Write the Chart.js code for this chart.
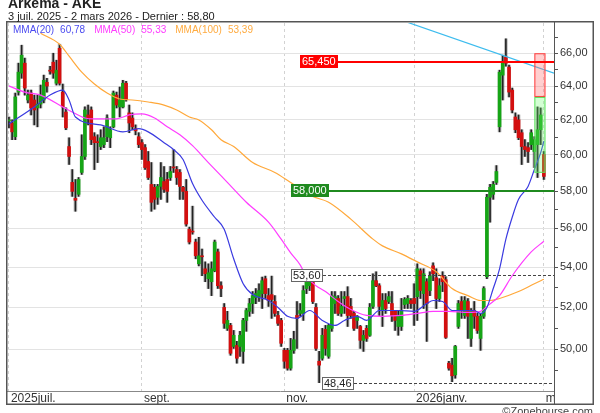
<!DOCTYPE html>
<html>
<head>
<meta charset="utf-8">
<title>Arkema - AKE</title>
<script src="https://cdn.jsdelivr.net/npm/chart.js@4.4.1/dist/chart.umd.min.js"></script>
<style>
  html, body { margin: 0; padding: 0; background: #fff; }
  canvas { display: block; }
</style>
</head>
<body>
<canvas id="chart" width="600" height="413"></canvas>
<script>
// one entry per trading day, index 0 = 3 juil. 2025, index 169 = 2 mars 2026
const open = [
  61.94, 61.82, 61.03, 63.64, 64.78, 65.39, 63.17, 63.58, 63.17, 62.70,
  62.93, 63.17, 64.23, 64.96, 65.45, 64.17, 66.31, 63.64, 62.46, 60.47,
  58.47, 57.60, 57.82, 59.02, 59.91, 62.29, 62.58, 61.03, 60.75, 60.47,
  60.58, 61.03, 60.97, 61.60, 63.46, 62.76, 62.76, 64.17, 62.41, 62.11,
  61.49, 61.03, 60.69, 60.41, 59.63, 58.36, 58.20, 57.66, 58.25, 58.52,
  58.63, 58.74, 59.29, 59.18, 59.02, 58.20, 57.98, 55.96, 55.86, 55.29,
  54.17, 54.58, 53.92, 53.42, 53.27, 53.82, 54.78, 53.07, 52.00, 50.99,
  51.13, 50.13, 50.18, 50.13, 49.90, 51.37, 51.81, 52.19, 52.48, 52.53,
  52.68, 53.42, 52.58, 52.63, 52.29, 51.61, 51.37, 49.95, 49.95, 49.12,
  49.95, 51.61, 51.71, 51.71, 52.93, 53.07, 53.27, 52.00, 49.44, 49.58,
  50.94, 49.67, 50.99, 52.19, 52.44, 51.71, 52.44, 52.53, 52.05, 51.71,
  51.37, 51.08, 50.42, 50.99, 50.66, 52.05, 53.32, 53.07, 51.85, 52.34,
  52.29, 52.19, 51.81, 51.08, 51.08, 52.14, 52.19, 52.34, 52.44, 52.53,
  53.82, 52.68, 53.27, 52.83, 54.07, 53.47, 52.44, 53.57, 53.37, 49.35,
  49.26, 48.81, 51.08, 52.29, 51.61, 52.29, 50.51, 51.85, 51.57, 50.51,
  51.57, 53.52, 57.66, 57.82, 58.47, 61.60, 64.66, 65.76, 65.15, 63.76,
  62.17, 62.00, 61.26, 60.47, 60.41, 60.58, 60.19, 60.58, 61.43, 60.02
];
const high = [
  62.17, 62.00, 63.58, 65.39, 66.50, 65.70, 63.76, 63.76, 63.46, 63.46,
  64.06, 64.66, 64.47, 65.20, 66.00, 65.57, 66.56, 64.12, 62.70, 60.97,
  59.18, 58.63, 58.74, 61.14, 62.76, 62.87, 62.76, 61.26, 61.14, 61.43,
  61.60, 62.29, 61.60, 63.70, 63.64, 63.94, 64.35, 64.29, 62.87, 62.41,
  61.71, 61.26, 60.86, 60.58, 60.19, 59.57, 58.36, 58.36, 59.57, 59.35,
  59.02, 59.35, 60.30, 59.35, 59.18, 58.25, 58.63, 56.07, 57.18, 55.44,
  55.54, 54.93, 54.27, 54.17, 54.27, 55.39, 54.93, 53.27, 52.19, 51.81,
  51.23, 50.89, 50.37, 50.85, 51.47, 51.95, 52.44, 52.78, 52.93, 53.17,
  53.50, 53.55, 52.93, 53.55, 52.58, 51.81, 51.47, 50.04, 50.04, 50.51,
  50.85, 52.29, 52.19, 53.07, 53.60, 53.57, 53.42, 52.19, 49.90, 50.99,
  51.13, 51.18, 52.78, 52.78, 52.58, 52.78, 52.78, 53.02, 52.44, 51.81,
  51.61, 51.13, 50.89, 51.13, 52.19, 53.67, 53.77, 53.17, 52.68, 52.68,
  52.78, 52.78, 51.85, 51.81, 52.44, 52.48, 52.58, 52.44, 53.17, 54.17,
  53.92, 53.92, 53.42, 53.77, 54.22, 53.92, 53.42, 53.77, 53.52, 49.44,
  49.58, 50.18, 52.34, 52.53, 52.53, 52.44, 51.95, 52.29, 51.71, 51.71,
  53.02, 57.82, 58.36, 58.52, 59.40, 64.96, 65.88, 66.90, 65.27, 63.88,
  62.41, 62.29, 61.43, 60.86, 60.69, 61.43, 61.03, 62.76, 62.70, 60.19
];
const low = [
  61.54, 60.86, 60.86, 63.46, 64.47, 63.46, 63.00, 62.29, 61.71, 61.60,
  62.70, 63.00, 63.64, 64.72, 64.47, 64.06, 64.06, 62.17, 61.43, 59.46,
  57.71, 56.91, 57.71, 58.91, 59.74, 61.71, 60.58, 59.18, 59.57, 60.30,
  60.41, 60.75, 60.41, 61.54, 62.70, 62.17, 62.70, 63.10, 61.26, 61.43,
  61.14, 60.41, 59.74, 59.18, 58.63, 56.91, 57.02, 57.28, 57.55, 57.93,
  57.39, 58.58, 59.02, 58.36, 57.55, 57.55, 56.12, 55.19, 55.70, 54.43,
  54.07, 53.57, 53.27, 52.93, 52.58, 53.77, 52.93, 52.53, 50.99, 50.89,
  49.72, 50.04, 49.35, 49.67, 49.35, 50.85, 51.57, 51.71, 52.19, 52.29,
  51.95, 52.44, 52.05, 51.47, 51.57, 51.13, 50.13, 49.12, 49.03, 49.03,
  49.81, 50.04, 51.57, 51.37, 52.68, 52.83, 52.19, 49.95, 48.46, 49.49,
  49.72, 49.58, 50.85, 51.71, 51.61, 51.57, 51.71, 51.08, 51.47, 50.89,
  50.99, 50.04, 49.90, 50.37, 50.61, 51.95, 53.02, 51.61, 51.08, 51.71,
  52.19, 51.32, 50.89, 50.66, 50.89, 51.95, 51.95, 51.95, 51.13, 51.37,
  52.44, 51.95, 50.37, 52.58, 53.32, 51.95, 52.29, 52.78, 50.51, 49.03,
  48.50, 48.66, 50.99, 51.47, 51.47, 50.51, 50.13, 50.99, 50.75, 49.95,
  51.47, 53.42, 56.33, 57.55, 58.36, 61.31, 63.17, 65.20, 63.35, 62.41,
  61.26, 60.86, 59.46, 59.91, 59.57, 60.30, 59.29, 58.74, 60.58, 58.63
];
const close = [
  62.00, 61.31, 63.35, 64.84, 65.88, 63.88, 63.46, 62.70, 62.58, 62.93,
  63.46, 64.35, 64.00, 64.90, 64.78, 64.96, 64.17, 62.76, 61.54, 59.91,
  57.98, 57.50, 58.63, 59.91, 62.58, 62.11, 60.86, 60.69, 60.69, 60.97,
  60.97, 62.11, 61.43, 63.58, 62.87, 63.17, 64.17, 63.20, 61.82, 61.60,
  61.37, 60.58, 60.30, 59.29, 58.74, 57.39, 57.55, 58.25, 58.74, 58.09,
  57.98, 59.07, 59.27, 58.74, 58.25, 57.98, 56.23, 55.29, 55.81, 54.58,
  54.58, 54.53, 53.67, 53.72, 53.92, 55.29, 53.07, 52.93, 51.23, 51.37,
  49.81, 50.66, 49.58, 50.66, 51.37, 51.85, 52.19, 52.58, 52.68, 52.83,
  53.32, 52.68, 52.34, 52.39, 51.71, 51.23, 50.28, 49.44, 49.12, 49.95,
  50.45, 51.47, 51.85, 52.83, 53.42, 53.42, 52.29, 50.04, 49.26, 50.66,
  50.04, 51.13, 52.58, 52.53, 51.71, 52.05, 52.53, 51.61, 51.61, 50.99,
  51.57, 50.42, 50.66, 50.51, 52.00, 53.32, 53.07, 52.05, 52.34, 51.95,
  52.53, 51.61, 51.37, 51.57, 51.85, 52.39, 52.44, 52.19, 52.19, 53.92,
  52.83, 53.67, 52.19, 53.57, 53.67, 52.44, 53.07, 53.27, 50.56, 49.12,
  48.77, 50.13, 52.19, 51.85, 52.34, 51.57, 51.81, 51.57, 50.89, 51.57,
  52.93, 57.66, 58.20, 58.36, 59.07, 64.84, 65.39, 65.39, 63.64, 62.58,
  61.43, 60.97, 60.47, 60.30, 60.19, 61.26, 60.86, 61.43, 62.29, 58.80
];

// moving averages: [day index, value]
const mma20 = [
  [0, 61.77], [8, 62.76], [13, 63.46], [17, 63.76], [19, 63.17], [21, 62.17], [29, 61.71],
  [36, 61.31], [41, 61.49], [44, 61.31], [49, 60.69], [52, 60.30], [55, 59.74], [58, 58.41],
  [61, 57.50], [65, 56.59], [68, 55.96], [71, 54.43], [74, 53.17], [77, 52.63], [82, 52.34],
  [85, 52.00], [88, 51.57], [91, 51.47], [95, 51.85], [99, 51.37], [103, 51.13], [106, 51.37],
  [110, 51.57], [113, 51.37], [117, 51.85], [123, 51.85], [128, 51.81], [132, 52.19], [134, 52.34],
  [137, 52.29], [140, 51.85], [147, 51.85], [149, 51.71], [151, 52.00], [153, 52.93], [155, 53.92],
  [157, 55.44], [159, 56.59], [161, 57.55], [164, 58.25], [166, 59.18], [168, 60.13], [169, 60.78]
];
const mma50 = [
  [0, 64.01], [5, 63.64], [10, 63.46], [17, 62.76], [20, 62.46], [24, 62.11], [27, 62.06],
  [34, 62.06], [38, 62.29], [42, 62.35], [46, 62.11], [50, 61.60], [54, 61.14], [58, 60.52],
  [63, 59.57], [69, 58.47], [75, 57.39], [82, 56.33], [86, 55.44], [89, 54.73], [92, 54.12],
  [94, 53.52], [97, 53.07], [100, 52.78], [104, 52.29], [108, 51.90], [113, 51.61], [118, 51.57],
  [124, 51.61], [129, 51.71], [134, 51.81], [139, 51.81], [145, 51.76], [149, 51.81], [151, 52.05],
  [155, 52.58], [159, 53.57], [165, 54.78], [169, 55.33]
];
const mma100 = [
  [10, 67.25], [16, 66.56], [19, 65.82], [23, 64.84], [27, 64.12], [31, 63.58], [35, 63.23],
  [39, 63.17], [44, 63.05], [49, 62.87], [53, 62.58], [57, 62.17], [60, 62.00], [64, 61.43],
  [67, 60.86], [71, 60.47], [77, 59.57], [84, 59.02], [89, 58.47], [96, 57.71], [101, 57.39],
  [108, 56.49], [115, 55.44], [118, 55.09], [124, 54.68], [129, 54.27], [135, 53.77], [140, 52.93],
  [145, 52.58], [149, 52.34], [152, 52.34], [155, 52.44], [161, 52.78], [166, 53.17], [169, 53.39]
];
const mmaNames = ['MMA(20)', 'MMA(50)', 'MMA(100)'];
const mmaLast = [60.78, 55.33, 53.39];

// descending trend line, two anchors
const trendLine = [[120, 68.36], [172.2, 64.78]];

// horizontal levels and the day where their tag sits
const levelValues = [65.45, 58.00, 53.60, 48.46];
const levelFrom = [92, 89, 89, 99];

// target zones on the last days
const zoneDays = [166, 169.5];
const zoneUpper = [63.35, 66.00];
const zoneLower = [59.00, 63.35];

const monthTicks = [0, 42, 87, 128, 169];
const monthLabels = ['2025juil.', 'sept.', 'nov.', '2026janv.', 'mars'];
const priceTicks = [49, 50, 51, 52, 53, 54, 55, 56, 57, 58, 59, 60, 61, 62, 63, 64, 65, 66, 67];

const FONT = '"Liberation Sans", Arial, sans-serif';
const fr = (v, d) => v.toFixed(d).replace('.', ',');

const days = close.map((c, i) => i);
const ranges = days.map(i => ({ x: i, y: [low[i], high[i]] }));
const bodies = days.map(i => ({ x: i, y: [open[i], close[i]] }));
const bodyColors = days.map(i => close[i] >= open[i] ? '#16a516' : '#d30f0f');
const pts = arr => arr.map(p => ({ x: p[0], y: p[1] }));

const overlay = {
  id: 'overlay',
  afterDatasetsDraw(chart) {
    const { ctx, chartArea: a, scales: { x, y } } = chart;
    ctx.save();
    ctx.beginPath();
    ctx.rect(a.left, a.top, a.right - a.left, a.bottom - a.top);
    ctx.clip();

    const zx0 = x.getPixelForValue(zoneDays[0]);
    const zx1 = x.getPixelForValue(zoneDays[1]);
    const zone = (r, fill, edge) => {
      const top = y.getPixelForValue(r[1]);
      const bot = y.getPixelForValue(r[0]);
      ctx.fillStyle = fill;
      ctx.fillRect(zx0, top, zx1 - zx0, bot - top);
      ctx.strokeStyle = edge;
      ctx.lineWidth = 1;
      ctx.strokeRect(zx0 + 0.5, top + 0.5, zx1 - zx0 - 1, bot - top - 1);
    };
    zone(zoneUpper, 'rgba(255,110,110,0.33)', '#ff3b3b');
    zone(zoneLower, 'rgba(110,255,110,0.30)', '#5de05d');

    const styles = [
      { line: '#ff0000', width: 2, dash: [], bg: '#ff0000', fg: '#ffffff', digits: 3 },
      { line: '#1f8a1f', width: 2, dash: [], bg: '#1f8a1f', fg: '#ffffff', digits: 3 },
      { line: '#444444', width: 1, dash: [3, 2], bg: '#ffffff', fg: '#222222', edge: '#666666', digits: 2 },
      { line: '#444444', width: 1, dash: [3, 2], bg: '#ffffff', fg: '#222222', edge: '#666666', digits: 2 }
    ];
    ctx.font = '11px ' + FONT;
    levelValues.forEach((v, k) => {
      const s = styles[k];
      const py = Math.round(y.getPixelForValue(v)) + (s.width === 1 ? 0.5 : 0);
      const x0 = Math.round(x.getPixelForValue(levelFrom[k]));
      const text = fr(v, s.digits);
      const w = Math.round(ctx.measureText(text).width) + 4;
      ctx.strokeStyle = s.line;
      ctx.lineWidth = s.width;
      ctx.setLineDash(s.dash);
      ctx.beginPath();
      ctx.moveTo(x0 + w, py);
      ctx.lineTo(a.right, py);
      ctx.stroke();
      ctx.setLineDash([]);
      ctx.fillStyle = s.bg;
      ctx.fillRect(x0, Math.round(py) - 7, w, 13);
      if (s.edge) {
        ctx.strokeStyle = s.edge;
        ctx.lineWidth = 1;
        ctx.strokeRect(x0 + 0.5, Math.round(py) - 6.5, w - 1, 12);
      }
      ctx.fillStyle = s.fg;
      ctx.textAlign = 'left';
      ctx.textBaseline = 'middle';
      ctx.fillText(text, x0 + 2, Math.round(py));
    });
    ctx.restore();
  },
  afterDraw(chart) {
    const { ctx, chartArea: a } = chart;
    ctx.save();
    // the last month label is cut at the plot edge
    ctx.fillStyle = '#ffffff';
    ctx.fillRect(a.right + 1, a.bottom + 1, 38, 12);

    ctx.strokeStyle = '#888888';
    ctx.lineWidth = 1;
    ctx.beginPath();
    ctx.moveTo(7, a.bottom + 0.5);
    ctx.lineTo(a.right, a.bottom + 0.5);
    ctx.stroke();

    ctx.strokeStyle = '#555555';
    ctx.beginPath();
    ctx.moveTo(a.right + 0.5, 22);
    ctx.lineTo(a.right + 0.5, 404);
    ctx.stroke();

    ctx.lineWidth = 1.5;
    ctx.strokeRect(6.75, 21.75, 586.5, 382.5);

    ctx.textAlign = 'left';
    ctx.textBaseline = 'alphabetic';
    ctx.fillStyle = '#222222';
    ctx.font = 'bold 14px ' + FONT;
    ctx.fillText('Arkema - AKE', 8, 8);
    ctx.font = '11px ' + FONT;
    ctx.fillText('3 juil. 2025 - 2 mars 2026 - Dernier : ' + fr(close[close.length - 1], 2), 8, 20);

    const legendColors = ['#4b4bf0', '#ff3cff', '#ffab40'];
    ctx.font = '10px ' + FONT;
    let lx = 13;
    mmaNames.forEach((n, k) => {
      ctx.fillStyle = legendColors[k];
      ctx.fillText(n, lx, 33);
      lx += ctx.measureText(n).width + 6;
      const t = fr(mmaLast[k], 2);
      ctx.fillText(t, lx, 33);
      lx += ctx.measureText(t).width + 9;
    });

    ctx.fillStyle = '#444444';
    ctx.font = '11px ' + FONT;
    ctx.textAlign = 'right';
    ctx.fillText('\u00a9Zonebourse.com', 593, 415);
    ctx.restore();
  }
};

new Chart(document.getElementById('chart'), {
  type: 'bar',
  data: {
    datasets: [
      { type: 'bar', data: ranges, backgroundColor: 'rgba(110,110,110,0.45)', barThickness: 3, grouped: false, order: 10 },
      { type: 'bar', data: ranges, backgroundColor: '#222222', barThickness: 1, grouped: false, order: 9 },
      { type: 'bar', data: bodies, backgroundColor: bodyColors, borderWidth: 0, barThickness: 3, minBarLength: 1, grouped: false, order: 8 },
      { type: 'line', data: pts(mma100), borderColor: '#ffa83a', borderWidth: 1.2, pointRadius: 0, cubicInterpolationMode: 'monotone', order: 4 },
      { type: 'line', data: pts(mma50), borderColor: '#ff3cff', borderWidth: 1.2, pointRadius: 0, cubicInterpolationMode: 'monotone', order: 3 },
      { type: 'line', data: pts(mma20), borderColor: '#3a3ae0', borderWidth: 1.2, pointRadius: 0, cubicInterpolationMode: 'monotone', order: 2 },
      { type: 'line', data: pts(trendLine), borderColor: '#3dbcee', borderWidth: 1.2, pointRadius: 0, order: 1 }
    ]
  },
  options: {
    responsive: false,
    animation: false,
    layout: { padding: { left: 8, top: 23, right: 7, bottom: 9 } },
    plugins: {
      legend: { display: false },
      tooltip: { enabled: false },
      title: { display: false }
    },
    scales: {
      x: {
        type: 'linear',
        min: -0.3,
        max: 172.2,
        offset: false,
        afterBuildTicks: s => { s.ticks = monthTicks.map(v => ({ value: v })); },
        afterFit: s => { s.height = 13; },
        ticks: {
          autoSkip: false,
          maxRotation: 0,
          align: 'start',
          padding: 0,
          labelOffset: 2,
          color: '#333333',
          font: { family: FONT, size: 12 },
          callback: v => monthLabels[monthTicks.indexOf(v)]
        },
        grid: { offset: false, color: '#d2d2d2', drawTicks: false },
        border: { display: false, dash: [3, 3] }
      },
      y: {
        type: 'logarithmic',
        position: 'right',
        min: 48.08,
        max: 67.9,
        beginAtZero: false,
        afterBuildTicks: s => { s.ticks = priceTicks.map(v => ({ value: v })); },
        afterFit: s => { s.width = 39; },
        ticks: {
          autoSkip: false,
          padding: 2,
          color: '#333333',
          font: { family: FONT, size: 11 },
          callback: v => v % 2 === 0 ? fr(v, 2) : ''
        },
        grid: {
          color: c => (c.tick && c.tick.value % 2 === 0) ? '#e3e3e3' : 'rgba(0,0,0,0)',
          tickColor: '#555555',
          tickLength: 4
        },
        border: { display: false }
      }
    }
  },
  plugins: [overlay]
});
</script>
</body>
</html>
